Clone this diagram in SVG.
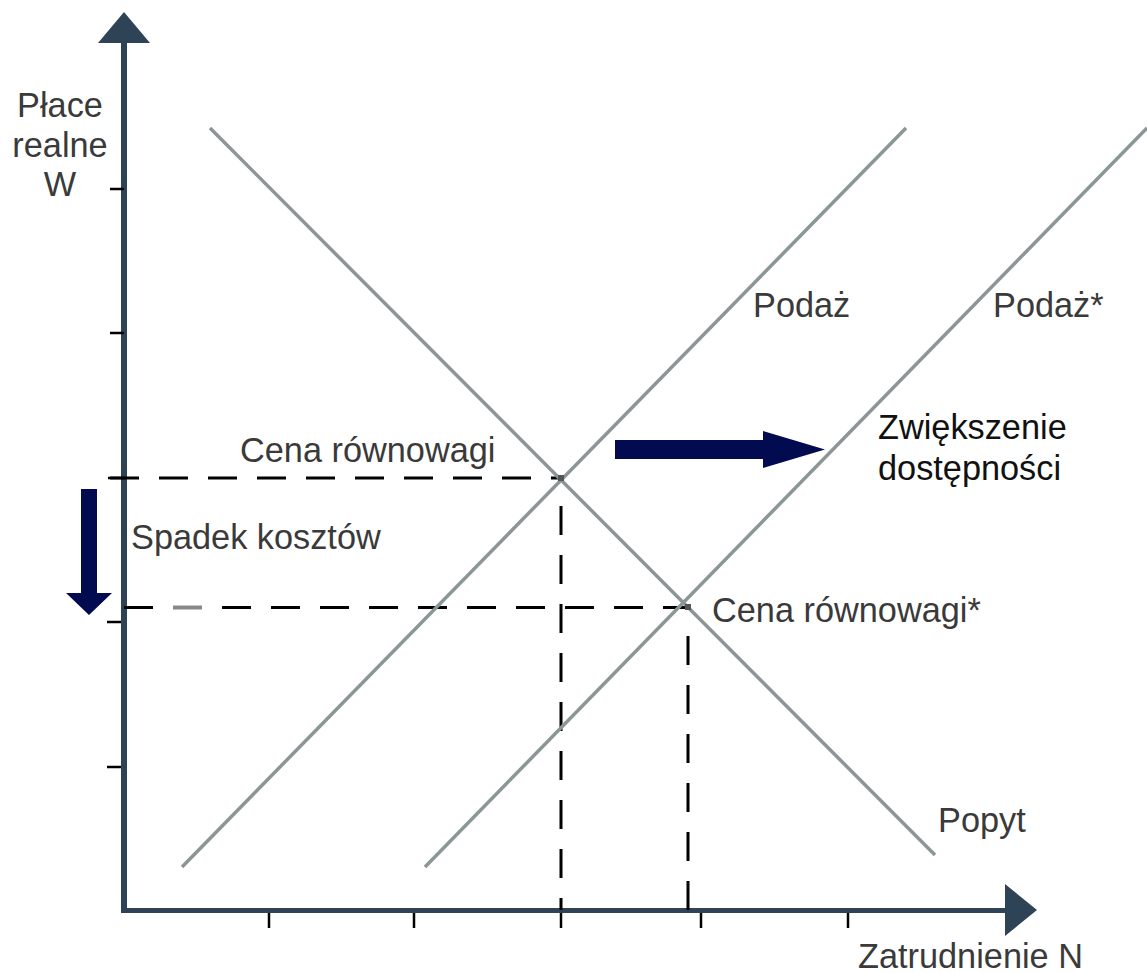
<svg xmlns="http://www.w3.org/2000/svg" width="1147" height="973" viewBox="0 0 1147 973">
<style>
.ax{stroke:#2f4357;fill:none}
.axh{fill:#2f4357}
.tk{stroke:#000;stroke-width:2.5}
.crv{stroke:#8c9696;stroke-width:3.5;fill:none}
.dsh{stroke:#000;stroke-width:3;stroke-dasharray:29 20;fill:none}
.lbl{font-family:"Liberation Sans",Arial,sans-serif;font-size:34.3px;fill:#3a3a3a}
.dark{fill:#111}
.nav{fill:#020b4f}
</style>
<rect width="1147" height="973" fill="#fff"/>
<g id="axes">
<line class="ax" x1="124" y1="40" x2="124" y2="913" stroke-width="6"/>
<polygon class="axh" points="124,12 98,43 150,43"/>
<line class="ax" x1="121" y1="910.5" x2="1008" y2="910.5" stroke-width="5"/>
<polygon class="axh" points="1037,910 1005,884 1005,936"/>
<line class="tk" x1="110" y1="189" x2="124" y2="189"/>
<line class="tk" x1="110" y1="333" x2="124" y2="333"/>
<line class="tk" x1="108" y1="478" x2="124" y2="478"/>
<line class="tk" x1="107" y1="622" x2="121" y2="622"/>
<line class="tk" x1="107" y1="767" x2="121" y2="767"/>
<line class="tk" x1="269" y1="913" x2="269" y2="928"/>
<line class="tk" x1="414" y1="913" x2="414" y2="928"/>
<line class="tk" x1="561" y1="913" x2="561" y2="928"/>
<line class="tk" x1="701" y1="913" x2="701" y2="928"/>
<line class="tk" x1="848" y1="913" x2="848" y2="928"/>
</g>
<g id="connectors">
<line class="dsh" x1="110" y1="478" x2="561" y2="478"/>
<line class="dsh" x1="124" y1="607.5" x2="688" y2="607.5"/>
<line x1="173" y1="607.5" x2="202" y2="607.5" stroke="#888" stroke-width="4"/>
<line class="dsh" x1="561" y1="506" x2="561" y2="910"/>
<line class="dsh" x1="688" y1="636" x2="688" y2="910"/>
</g>
<g id="popyt"><line class="crv" x1="210" y1="128" x2="935" y2="855"/></g>
<g id="podaz"><line class="crv" x1="182" y1="867" x2="906" y2="128"/></g>
<g id="podaz-star"><line class="crv" x1="425" y1="867" x2="1147" y2="128"/></g>
<g id="eq1"><rect x="558" y="475" width="6" height="6" fill="#555"/></g>
<g id="eq2"><rect x="685" y="604" width="6" height="6" fill="#555"/></g>
<g id="arrow-right"><polygon class="nav" points="615,440 763,440 763,431 825,449.5 763,468 763,459 615,459"/></g>
<g id="arrow-down"><polygon class="nav" points="81,489 97,489 97,593 112,593 89,615 66,593 81,593"/></g>
<g id="labels">
<text class="lbl" x="60" y="117" text-anchor="middle">Płace</text>
<text class="lbl" x="60" y="157" text-anchor="middle">realne</text>
<text class="lbl" x="60" y="196" text-anchor="middle">W</text>
<text class="lbl" x="753" y="317">Podaż</text>
<text class="lbl" x="993" y="317">Podaż*</text>
<text class="lbl dark" x="878" y="439">Zwiększenie</text>
<text class="lbl dark" x="878" y="480">dostępności</text>
<text class="lbl" x="240" y="462">Cena równowagi</text>
<text class="lbl" x="131" y="549">Spadek kosztów</text>
<text class="lbl" x="712" y="622">Cena równowagi*</text>
<text class="lbl" x="938" y="832">Popyt</text>
<text class="lbl" x="858" y="968">Zatrudnienie N</text>
</g>
</svg>
